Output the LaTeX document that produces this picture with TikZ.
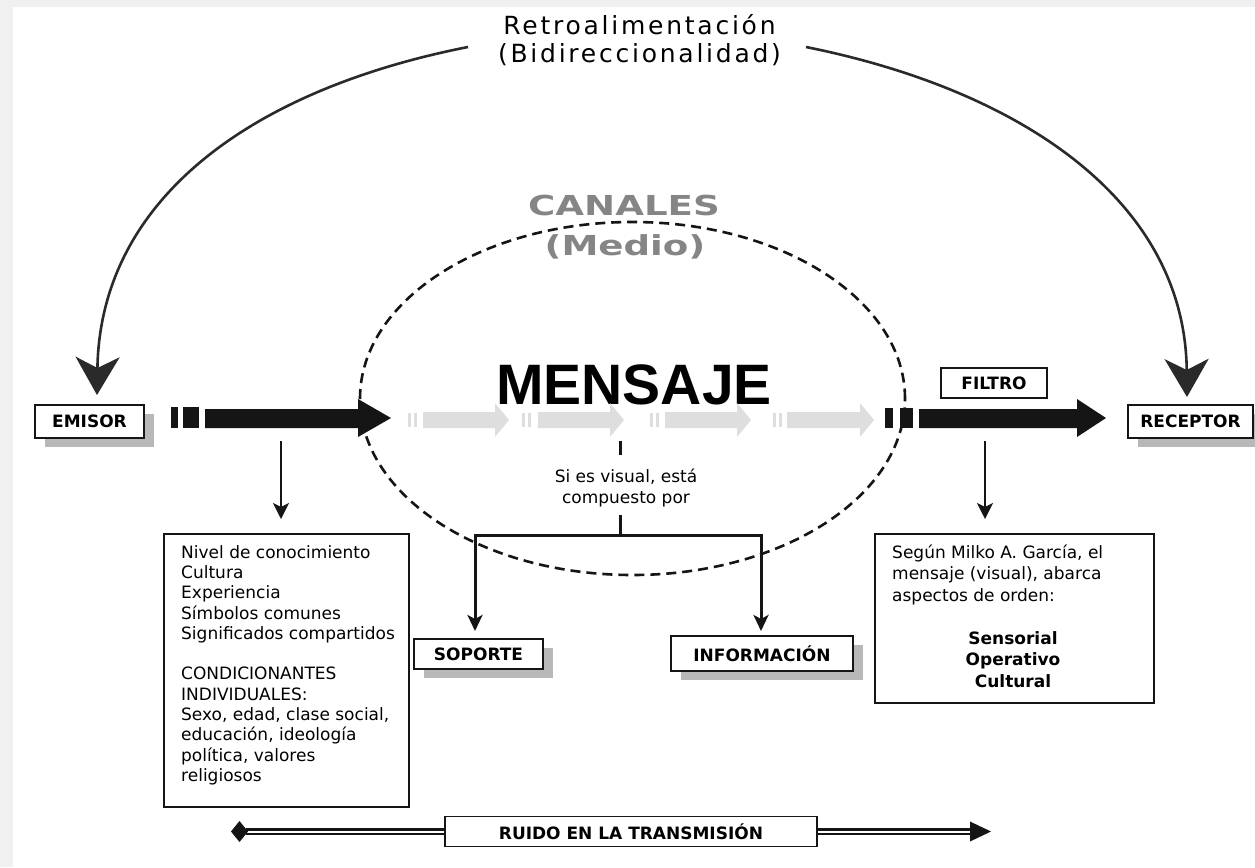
\documentclass[tikz,border=0pt]{standalone}
\usepackage{fontspec}
\setmainfont{DejaVu Sans}
\newfontfamily\titlefont[LetterSpace=11]{DejaVu Sans}
\newfontfamily\bigfont{Liberation Sans}
\usetikzlibrary{arrows.meta,shadows}
\definecolor{bggray}{HTML}{F0F0F0}
\definecolor{shgray}{HTML}{B8B8B8}
\definecolor{lightarr}{HTML}{DEDEDE}
\definecolor{canal}{HTML}{858585}
\definecolor{ink}{HTML}{151515}
\definecolor{curvec}{HTML}{2A2A2A}
\begin{document}
\begin{tikzpicture}[x=1pt,y=-1pt,
  lbl/.style={draw=ink, line width=1.6pt, fill=white, inner sep=0pt, font=\fontsize{17}{20}\selectfont\bfseries},
  shadowed/.style={drop shadow={shadow xshift=10pt,shadow yshift=-9pt,fill=shgray,opacity=1}},
  tbox/.style={draw=ink, line width=1.6pt, fill=white, inner sep=0pt},
  txt/.style={inner sep=0pt, align=left, font=\fontsize{17}{20.3}\selectfont},
  fb/.style={draw=curvec, line width=2.6pt, -{Stealth[length=38pt,width=44pt,inset=11pt]}},
  down/.style={draw=ink, line width=2pt, -{Stealth[length=16pt,width=16pt,inset=4pt]}},
  fork/.style={draw=ink, line width=3pt, {Stealth[length=16pt,width=15pt,inset=4pt]}-{Stealth[length=16pt,width=15pt,inset=4pt]}},
  blk/.style={fill=ink},
  gry/.style={fill=lightarr},
  chan/.style={draw=ink, line width=2.6pt, dash pattern=on 10pt off 6pt},
  dbl/.style={draw=ink, line width=2.2pt, double=white, double distance=2pt}
]
\useasboundingbox (0,0) rectangle (1255,867);
\fill[bggray] (0,0) rectangle (1255,867);
\fill[white] (13,7) rectangle (1255,867);

% channel ellipse
\draw[chan] (632.5,398.5) ellipse [x radius=272.5pt, y radius=176.5pt];

% title
\node[font=\titlefont\fontsize{25}{28}\selectfont, inner sep=0pt, anchor=base] (title1) at (639.5,35) {Retroalimentación};
\node[font=\titlefont\fontsize{25}{28}\selectfont, inner sep=0pt, anchor=base] (title2) at (639.5,63) {(Bidireccionalidad)};

% canales
\node[font=\bfseries\fontsize{27.5}{30}\selectfont, text=canal, inner sep=0pt, anchor=base] (canales) at (624,215) {\scalebox{1.35}[1]{CANALES}};
\node[font=\bfseries\fontsize{27.5}{30}\selectfont, text=canal, inner sep=0pt, anchor=base] (medio) at (625,255) {\scalebox{1.35}[1]{(Medio)}};

% mensaje
\node[font=\bigfont\bfseries\fontsize{57}{60}\selectfont, inner sep=0pt, anchor=base] (mensaje) at (634,404) {MENSAJE};

% boxes
\node[lbl, shadowed, minimum width=109pt, minimum height=33pt] (emisor) at (89.5,421.5) {EMISOR};
\node[lbl, minimum width=106pt, minimum height=30pt] (filtro) at (994,383) {FILTRO};
\node[lbl, shadowed, minimum width=125pt, minimum height=33pt] (receptor) at (1190.5,421.5) {RECEPTOR};
\node[lbl, shadowed, minimum width=129pt, minimum height=30pt] (soporte) at (478.5,654) {SOPORTE};
\node[lbl, shadowed, minimum width=182pt, minimum height=35pt] (info) at (762,653.5) {INFORMACIÓN};

% feedback arcs
\coordinate (fbL) at (468,47);
\coordinate (fbR) at (806,47);
\coordinate (emtip) at (97,395);
\coordinate (retip) at (1187,397);
\draw[fb] (fbL) .. controls (250,90) and (100,200) .. (emtip);
\draw[fb] (fbR) .. controls (1020,90) and (1185,200) .. (retip);

% black arrows
\fill[blk] (171,407) rectangle (178,428);
\fill[blk] (183,407) rectangle (199,428);
\fill[blk] (205,409) -- (358,409) -- (358,399) -- (391,418) -- (358,437) -- (358,428) -- (205,428) -- cycle;
\fill[blk] (885,408) rectangle (893,428);
\fill[blk] (900,408) rectangle (913,428);
\fill[blk] (919,409) -- (1077,409) -- (1077,399) -- (1106,418) -- (1077,437) -- (1077,428) -- (919,428) -- cycle;

% light arrows
\foreach \b/\s/\h in {408/423/495, 522/538/610, 650/665/737, 773/787/860} {
  \fill[gry] (\b,413) rectangle ++(3,14);
  \fill[gry] (\b+6,413) rectangle ++(3,14);
  \fill[gry] (\s,412) -- (\h,412) -- (\h,403) -- (\h+14,420) -- (\h,437) -- (\h,428) -- (\s,428) -- cycle;
}

% down arrows
\coordinate (eA) at (281,441);
\coordinate (eB) at (281,519);
\coordinate (fA) at (985,441);
\coordinate (fB) at (985,519);
\draw[down] (eA) -- (eB);
\draw[down] (fA) -- (fB);

% si es visual
\coordinate (barT) at (620,441);
\coordinate (barB) at (620,455);
\draw[draw=ink, line width=3pt] (barT) -- (barB);
\node[txt, align=center, font=\fontsize{17}{21}\selectfont, anchor=north] (sies) at (626,468.5) {Si es visual, está\\compuesto por};
\coordinate (forkTop) at (620,515);
\coordinate (forkMid) at (620,535);
\coordinate (forkL) at (475,535);
\coordinate (forkR) at (761,535);
\coordinate (sopT) at (475,631);
\coordinate (infT) at (761,631);
\draw[draw=ink, line width=3pt] (forkTop) -- (forkMid);
\draw[fork] (sopT) -- (forkL) -- (forkR) -- (infT);

% left text box
\node[tbox, minimum width=245pt, minimum height=273pt] (lbox) at (286.5,670.5) {};
\node[txt, anchor=north west] (ltext) at (181,545) {Nivel de conocimiento\\Cultura\\Experiencia\\Símbolos comunes\\Significados compartidos\\[20.3pt]CONDICIONANTES\\INDIVIDUALES:\\Sexo, edad, clase social,\\educación, ideología\\política, valores\\religiosos};

% right text box
\node[tbox, minimum width=279pt, minimum height=169pt] (rbox) at (1014.5,618.5) {};
\node[txt, font=\fontsize{17}{21.5}\selectfont, anchor=north west] (rtext) at (892,544.5) {Según Milko A. García, el\\mensaje (visual), abarca\\aspectos de orden:};
\node[txt, align=center, font=\fontsize{17}{21.5}\selectfont\bfseries, anchor=north] (rbold) at (1013,631) {Sensorial\\Operativo\\Cultural};

% ruido
\coordinate (rl) at (246,831.5);
\coordinate (rr) at (972,831.5);
\node[lbl, minimum width=372pt, minimum height=30pt] (ruidobg) at (631,831.5) {};
\draw[dbl] (rl) -- (ruidobg.west);
\draw[dbl] (ruidobg.east) -- (rr);
\node[lbl, minimum width=372pt, minimum height=30pt] (ruido) at (631,831.5) {RUIDO EN LA TRANSMISIÓN};
\fill[ink] (231,831.5) -- (239.5,821) -- (248,831.5) -- (239.5,842) -- cycle;
\fill[ink] (970,821.5) -- (991,831.5) -- (970,841.5) -- cycle;
\end{tikzpicture}
\end{document}
